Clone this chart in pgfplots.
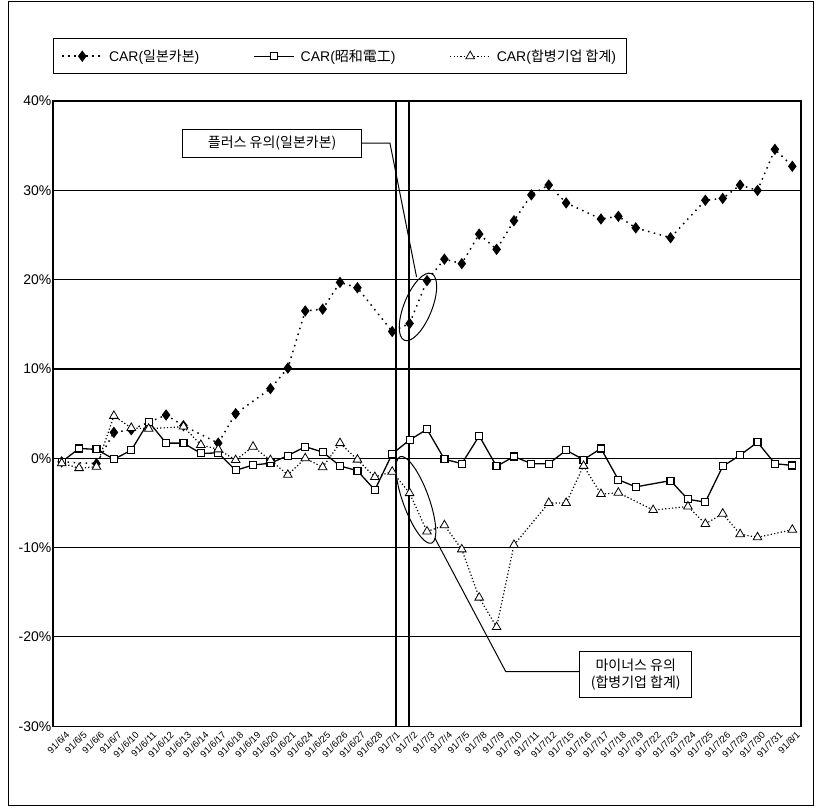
\documentclass[border=0pt]{standalone}
\usepackage{pgfplots}
\pgfplotsset{compat=1.18}
\usepackage{fontspec}
\setmainfont{Liberation Sans}
\newfontfamily\kr{Noto Sans CJK KR}
\usetikzlibrary{shapes.geometric}
\begin{document}
\begin{tikzpicture}
\path[use as bounding box] (0,0) rectangle (819pt,811pt);
\draw[line width=1pt] (8pt,6pt) rectangle (813pt,809pt);
\begin{axis}[
  at={(53pt,84.8pt)}, anchor=south west,
  width=748pt, height=625.1pt, scale only axis,
  xmin=-0.5, xmax=42.5, ymin=-30, ymax=40,
  xtick={0,...,42},
  xticklabels={91/6/4,91/6/5,91/6/6,91/6/7,91/6/10,91/6/11,91/6/12,91/6/13,91/6/14,91/6/17,91/6/18,91/6/19,91/6/20,91/6/21,91/6/24,91/6/25,91/6/26,91/6/27,91/6/28,91/7/1,91/7/2,91/7/3,91/7/4,91/7/5,91/7/8,91/7/9,91/7/10,91/7/11,91/7/12,91/7/15,91/7/16,91/7/17,91/7/18,91/7/19,91/7/22,91/7/23,91/7/24,91/7/25,91/7/26,91/7/29,91/7/30,91/7/31,91/8/1},
  x tick label style={rotate=45, anchor=north east, font=\fontsize{9.5}{11}\selectfont, inner sep=0.5pt, yshift=-5pt},
  ytick={-30,-20,...,40},
  yticklabel={\pgfmathprintnumber{\tick}\%},
  /pgf/number format/assume math mode=true,
  y tick label style={font=\fontsize{14}{16}\selectfont, inner sep=1.5pt},
  ymajorgrids, grid style={black, line width=1.1pt},
  axis line style={line width=1.3pt},
  major tick length=0,
  clip=false,
  legend columns=3,
  legend style={at={(0,1.1008)}, anchor=north west, draw=black, line width=1pt,
    font=\fontsize{14}{16}\selectfont, inner xsep=8pt, inner ysep=9pt,
    /tikz/every odd column/.append style={column sep=4pt},
    /tikz/every even column/.append style={column sep=52pt}},
  legend image code/.code={\draw[#1, mark repeat=2, mark phase=2] plot coordinates {(0pt,0pt) (20pt,0pt) (40pt,0pt)};},
]
\addplot[black, line width=1.5pt, dash pattern=on 1.5pt off 4.5pt, mark=diamond*, mark size=4.5pt, mark options={solid, fill=black}]
coordinates {(0,-0.4) (2,-0.6) (3,2.9) (4,3.2) (6,4.85) (7,3.65) (9,1.7) (10,5.0) (12,7.8) (13,10.1) (14,16.5) (15,16.7) (16,19.7) (17,19.1) (19,14.2) (20,15.1) (21,19.9) (22,22.3) (23,21.8) (24,25.1) (25,23.4) (26,26.6) (27,29.5) (28,30.6) (29,28.6) (31,26.8) (32,27.1) (33,25.8) (35,24.7) (37,28.9) (38,29.1) (39,30.6) (40,30.0) (41,34.6) (42,32.7)};
\addlegendentry{CAR({\kr 일본카본})}
\addplot[black, line width=1.3pt, mark=square*, mark size=3.5pt, mark options={solid, fill=white, line width=1.2pt}]
coordinates {(0,-0.4) (1,1.1) (2,1.0) (3,-0.1) (4,0.9) (5,4.1) (6,1.7) (7,1.7) (8,0.55) (9,0.6) (10,-1.35) (11,-0.75) (12,-0.55) (13,0.3) (14,1.3) (15,0.7) (16,-0.85) (17,-1.4) (18,-3.55) (19,0.5) (20,2.05) (21,3.25) (22,-0.1) (23,-0.6) (24,2.5) (25,-0.9) (26,0.2) (27,-0.6) (28,-0.6) (29,0.9) (30,-0.15) (31,1.1) (32,-2.4) (33,-3.2) (35,-2.5) (36,-4.6) (37,-4.9) (38,-0.9) (39,0.35) (40,1.8) (41,-0.6) (42,-0.8)};
\addlegendentry{CAR({\kr 昭和電工})}
\addplot[black, line width=1.2pt, dash pattern=on 1.2pt off 2.2pt, mark=triangle*, mark size=5pt, mark options={solid, fill=white, line width=0.8pt}]
coordinates {(0,-0.55) (1,-1.1) (2,-0.95) (3,4.75) (4,3.4) (5,3.3) (7,3.55) (8,1.5) (9,1.0) (10,-0.2) (11,1.3) (12,-0.2) (13,-1.85) (14,0.0) (15,-1.0) (16,1.7) (17,-0.15) (18,-2.1) (19,-1.5) (20,-3.9) (21,-8.2) (22,-7.5) (23,-10.2) (24,-15.6) (25,-18.9) (26,-9.7) (28,-5.0) (29,-5.0) (30,-0.85) (31,-4.0) (32,-3.85) (34,-5.8) (36,-5.4) (37,-7.35) (38,-6.2) (39,-8.5) (40,-8.85) (42,-8.0)};
\addlegendentry{CAR({\kr 합병기업 합계})}
% vertical marker lines
\draw[line width=1.2pt] (axis cs:19.22,-30) -- (axis cs:19.22,40);
\draw[line width=1.2pt] (axis cs:19.97,-30) -- (axis cs:19.97,40);
% annotation 1
\node[draw, ellipse, line width=1pt, minimum width=28pt, minimum height=72pt, inner sep=0pt, rotate=-22] at (axis cs:20.48,16.95) {};
\draw[line width=1pt] (axis cs:17.24,35.3) -- (axis cs:18.87,35.3) -- (axis cs:20.4,20.3);
\node[draw, line width=1pt, fill=white, minimum width=179pt, minimum height=28pt, inner sep=0pt, font=\fontsize{14}{16}\selectfont\kr] at (axis cs:12.1,35.3) {플러스 유의(일본카본)};
% annotation 2
\node[draw, ellipse, line width=1pt, minimum width=26pt, minimum height=92pt, inner sep=0pt, rotate=20] at (axis cs:20.36,-4.66) {};
\draw[line width=1pt] (axis cs:21.45,-8.93) -- (axis cs:25.53,-23.9) -- (axis cs:29.79,-23.9);
\node[draw, line width=1pt, fill=white, minimum width=112pt, minimum height=46pt, inner sep=0pt, align=center, font=\fontsize{14}{17}\selectfont\kr] at (axis cs:33.0,-24.2) {마이너스 유의\\(합병기업 합계)};
\end{axis}
\end{tikzpicture}
\end{document}
